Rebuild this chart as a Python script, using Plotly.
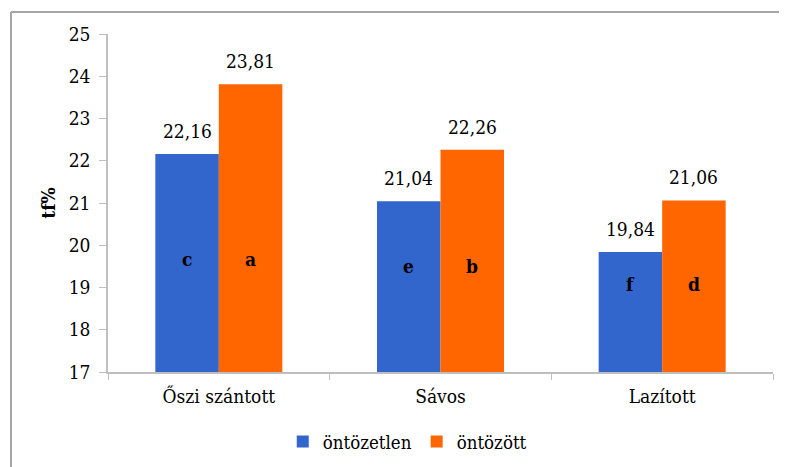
import plotly.graph_objects as go

categories = ["Őszi szántott", "Sávos", "Lazított"]
ontozetlen = [22.16, 21.04, 19.84]
ontozott = [23.81, 22.26, 21.06]
letters_ontozetlen = ["c", "e", "f"]
letters_ontozott = ["a", "b", "d"]
letter_y = [19.68, 19.51, 19.09]
series_names = ["öntözetlen", "öntözött"]
colors = ["#3366CC", "#FF6600"]

FONT = "DejaVu Serif Condensed, DejaVu Serif"
FS = 19
bargap = 0.427
off = (1 - bargap) / 4

fig = go.Figure()
fig.add_trace(go.Bar(x=categories, y=ontozetlen, name=series_names[0],
                     marker=dict(color=colors[0], line=dict(width=0))))
fig.add_trace(go.Bar(x=categories, y=ontozott, name=series_names[1],
                     marker=dict(color=colors[1], line=dict(width=0))))

ann = []
for i, c in enumerate(categories):
    for val, dx in ((ontozetlen[i], -off), (ontozott[i], off)):
        ann.append(dict(x=i + dx, y=val, xref="x", yref="y",
                        text=f"{val:.2f}".replace(".", ","), showarrow=False,
                        yanchor="bottom", yshift=10,
                        font=dict(family=FONT, size=FS, color="black")))
    for lt, dx in ((letters_ontozetlen[i], -off), (letters_ontozott[i], off)):
        ann.append(dict(x=i + dx, y=letter_y[i], xref="x", yref="y",
                        text=f"<b>{lt}</b>", showarrow=False,
                        font=dict(family=FONT, size=FS, color="black")))

# page body adds an 8px offset; compensate in margins
W, H = 787, 467
L, T = 100, 26
R = W - 765
B = H - 364
pw, ph = W - L - R, H - T - B
fx = (3 - L) / pw
fy = 1 + (T - 4) / ph

shapes = [
    dict(type="line", xref="paper", yref="paper", x0=fx, x1=fx, y0=-0.5, y1=fy,
         line=dict(color="#a6a6a6", width=2)),
    dict(type="line", xref="paper", yref="paper", x0=fx, x1=1.2, y0=fy, y1=fy,
         line=dict(color="#a6a6a6", width=2)),
]

fig.update_layout(
    width=W, height=H,
    margin=dict(l=L, r=R, t=T, b=B),
    paper_bgcolor="white", plot_bgcolor="white",
    barmode="group", bargap=bargap, bargroupgap=0,
    font=dict(family=FONT, size=FS, color="black"),
    annotations=ann, shapes=shapes,
    showlegend=True,
    legend=dict(orientation="h", x=0.45, xanchor="center", y=-0.207, yanchor="middle",
                font=dict(family=FONT, size=18.5), itemwidth=30, traceorder="normal"),
    xaxis=dict(showline=True, linecolor="#bfbfbf", linewidth=1.5, ticks="outside",
               tickson="boundaries", ticklen=6, tickcolor="#bfbfbf", ticklabelstandoff=6,
               tickfont=dict(family=FONT, size=FS), showgrid=False, automargin=False),
    yaxis=dict(range=[17, 25], dtick=1, showline=True, linecolor="#bfbfbf", linewidth=1.5,
               ticks="outside", ticklen=7, tickcolor="#bfbfbf", showgrid=False,
               ticklabelstandoff=5, automargin=False,
               zeroline=False, tickfont=dict(family=FONT, size=FS),
               title=dict(text="<b>tf%</b>", font=dict(family=FONT, size=FS), standoff=8)),
)

fig.write_html("out.html")
